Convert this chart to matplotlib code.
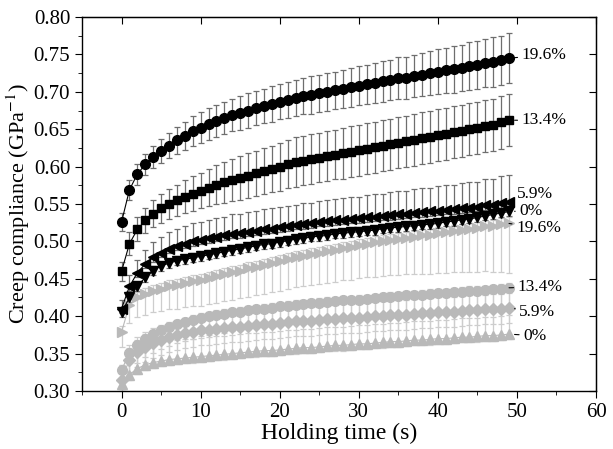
# -*- coding: utf-8 -*-
"""
Creep compliance vs holding time, 8 series with error bars
"""
import matplotlib
matplotlib.use('Agg')
import matplotlib.pyplot as plt
import numpy as np

plt.rcParams['font.family'] = ['Liberation Serif', 'DejaVu Serif']
plt.rcParams['mathtext.fontset'] = 'stix'

dpi = 100
fig_kw = dict(figsize=(613/dpi, 449/dpi), dpi=dpi)

# holding time (s), one reading per second
holding_time = np.arange(0, 50)

# black symbols
black_196 = [0.526, 0.569, 0.590, 0.603, 0.613, 0.621, 0.628, 0.635, 0.641, 0.647,
             0.652, 0.657, 0.661, 0.665, 0.669, 0.672, 0.675, 0.678, 0.681, 0.684,
             0.687, 0.689, 0.692, 0.694, 0.696, 0.698, 0.700, 0.702, 0.704, 0.706,
             0.708, 0.710, 0.712, 0.714, 0.716, 0.718, 0.719, 0.721, 0.723, 0.725,
             0.727, 0.729, 0.730, 0.732, 0.734, 0.736, 0.738, 0.740, 0.742, 0.745]
black_134 = [0.460, 0.497, 0.516, 0.528, 0.537, 0.544, 0.550, 0.555, 0.560, 0.564,
             0.568, 0.572, 0.576, 0.579, 0.582, 0.585, 0.588, 0.591, 0.594, 0.597,
             0.600, 0.603, 0.606, 0.608, 0.610, 0.612, 0.614, 0.616, 0.618, 0.620,
             0.622, 0.624, 0.626, 0.628, 0.630, 0.632, 0.634, 0.636, 0.638, 0.640,
             0.642, 0.644, 0.646, 0.648, 0.650, 0.652, 0.654, 0.656, 0.659, 0.662]
black_59 = [0.410, 0.440, 0.458, 0.470, 0.479, 0.485, 0.490, 0.494, 0.497, 0.500,
            0.502, 0.504, 0.506, 0.508, 0.510, 0.511, 0.513, 0.514, 0.516, 0.517,
            0.519, 0.520, 0.522, 0.523, 0.524, 0.526, 0.527, 0.528, 0.529, 0.530,
            0.531, 0.532, 0.533, 0.534, 0.535, 0.536, 0.537, 0.538, 0.539, 0.540,
            0.541, 0.542, 0.543, 0.544, 0.545, 0.546, 0.548, 0.549, 0.551, 0.553]
black_0 = [0.405, 0.425, 0.440, 0.452, 0.461, 0.467, 0.471, 0.474, 0.476, 0.478,
           0.480, 0.482, 0.484, 0.486, 0.488, 0.490, 0.492, 0.494, 0.496, 0.497,
           0.499, 0.501, 0.503, 0.504, 0.506, 0.507, 0.508, 0.510, 0.511, 0.512,
           0.513, 0.514, 0.515, 0.517, 0.518, 0.519, 0.520, 0.521, 0.522, 0.523,
           0.524, 0.526, 0.527, 0.529, 0.530, 0.532, 0.534, 0.536, 0.538, 0.540]

# gray symbols
gray_196 = [0.379, 0.415, 0.425, 0.430, 0.434, 0.437, 0.440, 0.442, 0.445, 0.447,
            0.449, 0.451, 0.454, 0.456, 0.459, 0.461, 0.464, 0.466, 0.469, 0.471,
            0.474, 0.476, 0.479, 0.481, 0.483, 0.485, 0.487, 0.489, 0.491, 0.493,
            0.495, 0.497, 0.499, 0.500, 0.502, 0.503, 0.505, 0.506, 0.508, 0.509,
            0.511, 0.512, 0.514, 0.515, 0.517, 0.518, 0.520, 0.521, 0.523, 0.524]
gray_134 = [0.328, 0.351, 0.362, 0.370, 0.376, 0.381, 0.385, 0.389, 0.392, 0.395,
            0.398, 0.400, 0.402, 0.403, 0.405, 0.406, 0.408, 0.409, 0.410, 0.411,
            0.413, 0.414, 0.415, 0.416, 0.417, 0.418, 0.419, 0.420, 0.421, 0.421,
            0.422, 0.423, 0.424, 0.425, 0.426, 0.427, 0.428, 0.428, 0.429, 0.430,
            0.431, 0.431, 0.432, 0.433, 0.434, 0.434, 0.435, 0.436, 0.437, 0.438]
gray_59 = [0.315, 0.342, 0.352, 0.359, 0.364, 0.368, 0.372, 0.375, 0.377, 0.379,
           0.381, 0.382, 0.383, 0.384, 0.385, 0.386, 0.387, 0.388, 0.389, 0.390,
           0.391, 0.392, 0.393, 0.394, 0.394, 0.395, 0.396, 0.396, 0.397, 0.398,
           0.398, 0.399, 0.400, 0.400, 0.401, 0.402, 0.402, 0.403, 0.404, 0.404,
           0.405, 0.406, 0.406, 0.407, 0.408, 0.408, 0.409, 0.410, 0.410, 0.411]
gray_0 = [0.310, 0.322, 0.330, 0.335, 0.338, 0.340, 0.342, 0.343, 0.344, 0.345,
          0.346, 0.347, 0.348, 0.349, 0.350, 0.351, 0.352, 0.353, 0.354, 0.354,
          0.355, 0.356, 0.357, 0.358, 0.358, 0.359, 0.360, 0.361, 0.361, 0.362,
          0.363, 0.363, 0.364, 0.365, 0.366, 0.366, 0.367, 0.368, 0.368, 0.369,
          0.370, 0.370, 0.371, 0.372, 0.372, 0.373, 0.374, 0.374, 0.375, 0.376]

# error bars
err_black_196 = [0.012, 0.013, 0.014, 0.014, 0.015, 0.016, 0.017, 0.018, 0.019, 0.020,
                 0.021, 0.021, 0.022, 0.022, 0.022, 0.023, 0.023, 0.023, 0.023, 0.024,
                 0.024, 0.024, 0.024, 0.024, 0.025, 0.025, 0.025, 0.025, 0.025, 0.026,
                 0.026, 0.026, 0.027, 0.027, 0.027, 0.028, 0.028, 0.028, 0.029, 0.029,
                 0.030, 0.030, 0.031, 0.031, 0.032, 0.032, 0.032, 0.033, 0.033, 0.033]
err_black_134 = [0.013, 0.015, 0.016, 0.017, 0.018, 0.019, 0.020, 0.021, 0.022, 0.023,
                 0.024, 0.025, 0.026, 0.027, 0.028, 0.029, 0.030, 0.030, 0.031, 0.031,
                 0.032, 0.032, 0.033, 0.033, 0.033, 0.033, 0.033, 0.033, 0.034, 0.034,
                 0.034, 0.034, 0.034, 0.034, 0.034, 0.034, 0.034, 0.035, 0.035, 0.035,
                 0.035, 0.035, 0.035, 0.035, 0.035, 0.035, 0.035, 0.035, 0.035, 0.035]
err_black_59_up = [0.012, 0.015, 0.017, 0.019, 0.020, 0.021, 0.022, 0.023, 0.023, 0.024,
                   0.024, 0.025, 0.025, 0.025, 0.026, 0.026, 0.026, 0.026, 0.027, 0.027,
                   0.027, 0.027, 0.027, 0.028, 0.028, 0.028, 0.028, 0.029, 0.029, 0.029,
                   0.029, 0.030, 0.030, 0.030, 0.031, 0.031, 0.031, 0.032, 0.032, 0.032,
                   0.033, 0.033, 0.033, 0.034, 0.034, 0.034, 0.035, 0.035, 0.036, 0.036]
err_gray_196_low = [0.020, 0.024, 0.026, 0.028, 0.029, 0.030, 0.031, 0.032, 0.033, 0.034,
                    0.035, 0.035, 0.036, 0.036, 0.037, 0.037, 0.038, 0.038, 0.039, 0.039,
                    0.040, 0.040, 0.040, 0.041, 0.041, 0.042, 0.042, 0.043, 0.043, 0.044,
                    0.044, 0.045, 0.046, 0.046, 0.047, 0.048, 0.049, 0.050, 0.051, 0.052,
                    0.053, 0.054, 0.055, 0.056, 0.058, 0.059, 0.060, 0.062, 0.064, 0.066]
# roughly constant error bars of the remaining series
err_black_0 = 0.006
err_black_59_low = 0.006
err_gray_196_up = 0.008
err_gray_134 = (0.025, 0.006)
err_gray_59 = (0.020, 0.020)
err_gray_0 = (0.007, 0.025)

labels = ['19.6%', '13.4%', '5.9%', '0%', '19.6%', '13.4%', '5.9%', '0%']
label_y = [0.749, 0.662, 0.564, 0.541, 0.518, 0.439, 0.406, 0.374]
label_x = [50.6, 50.6, 50.0, 50.3, 49.9, 50.1, 50.3, 50.8]

BLACK = 'black'
GRAY = '#b9b9b9'
EBAR_DARK = '#6e6e6e'
EBAR_LIGHT = '#cdcdcd'


def series(ax, y, err, marker, color, ecolor, ms):
    ax.errorbar(holding_time, y, yerr=err, fmt='-', marker=marker, color=color,
                mfc=color, mec=color, ms=ms, lw=0.8, ecolor=ecolor,
                elinewidth=0.9, capsize=2.5, capthick=0.9)


def const_err(low, up):
    n = len(holding_time)
    return [np.full(n, low), np.full(n, up)]


fig = plt.figure(**fig_kw)
ax = fig.add_axes([0.1338, 0.1292, 0.8385, 0.8329])

# gray series first (behind)
series(ax, gray_0, const_err(*err_gray_0), '^', GRAY, EBAR_LIGHT, 7.5)
series(ax, gray_59, const_err(*err_gray_59), 'D', GRAY, EBAR_LIGHT, 6)
series(ax, gray_134, const_err(*err_gray_134), 'o', GRAY, EBAR_LIGHT, 7)
series(ax, gray_196, [err_gray_196_low, np.full(len(holding_time), err_gray_196_up)],
       '>', GRAY, EBAR_LIGHT, 7.5)

# black series
series(ax, black_0, const_err(err_black_0, err_black_0), 'v', BLACK, EBAR_DARK, 7.5)
series(ax, black_59, [np.full(len(holding_time), err_black_59_low), err_black_59_up],
       '<', BLACK, EBAR_DARK, 7.5)
series(ax, black_134, err_black_134, 's', BLACK, EBAR_DARK, 6)
series(ax, black_196, err_black_196, 'o', BLACK, EBAR_DARK, 7)

ends = [black_196, black_134, black_59, black_0, gray_196, gray_134, gray_59, gray_0]
for lab, lx, ly, ys in zip(labels, label_x, label_y, ends):
    ax.annotate(lab, xy=(holding_time[-1], ys[-1]), xytext=(lx, ly),
                textcoords='data', va='center', ha='left', fontsize=12.5,
                arrowprops=dict(arrowstyle='-', lw=0.8, color='black',
                                shrinkA=1, shrinkB=4))

ax.set_xlim(-5, 60)
ax.set_ylim(0.30, 0.80)
ax.set_xticks(np.arange(0, 61, 10))
ax.set_xticks(np.arange(-5, 61, 5), minor=True)
ax.set_yticks(np.arange(0.30, 0.801, 0.05))
ax.set_yticks(np.arange(0.30, 0.801, 0.025), minor=True)
ax.yaxis.set_major_formatter(matplotlib.ticker.FormatStrFormatter('%.2f'))
ax.tick_params(which='both', direction='out', labelsize=15)
ax.tick_params(which='major', length=5)
ax.tick_params(which='minor', length=3)
for sp in ax.spines.values():
    sp.set_linewidth(1.0)

# inward ticks on top and right
top = ax.secondary_xaxis('top')
top.set_xticks(np.arange(0, 61, 10))
top.tick_params(direction='in', length=5, labeltop=False)
right = ax.secondary_yaxis('right')
right.set_yticks(np.arange(0.30, 0.801, 0.05))
right.tick_params(direction='in', length=5, labelright=False)

ax.set_xlabel('Holding time (s)', fontsize=17, labelpad=1)
ax.set_ylabel('Creep compliance (GPa$^{-1}$)', fontsize=16, labelpad=1)

fig.savefig('out.png', dpi=dpi)
plt.close(fig)
